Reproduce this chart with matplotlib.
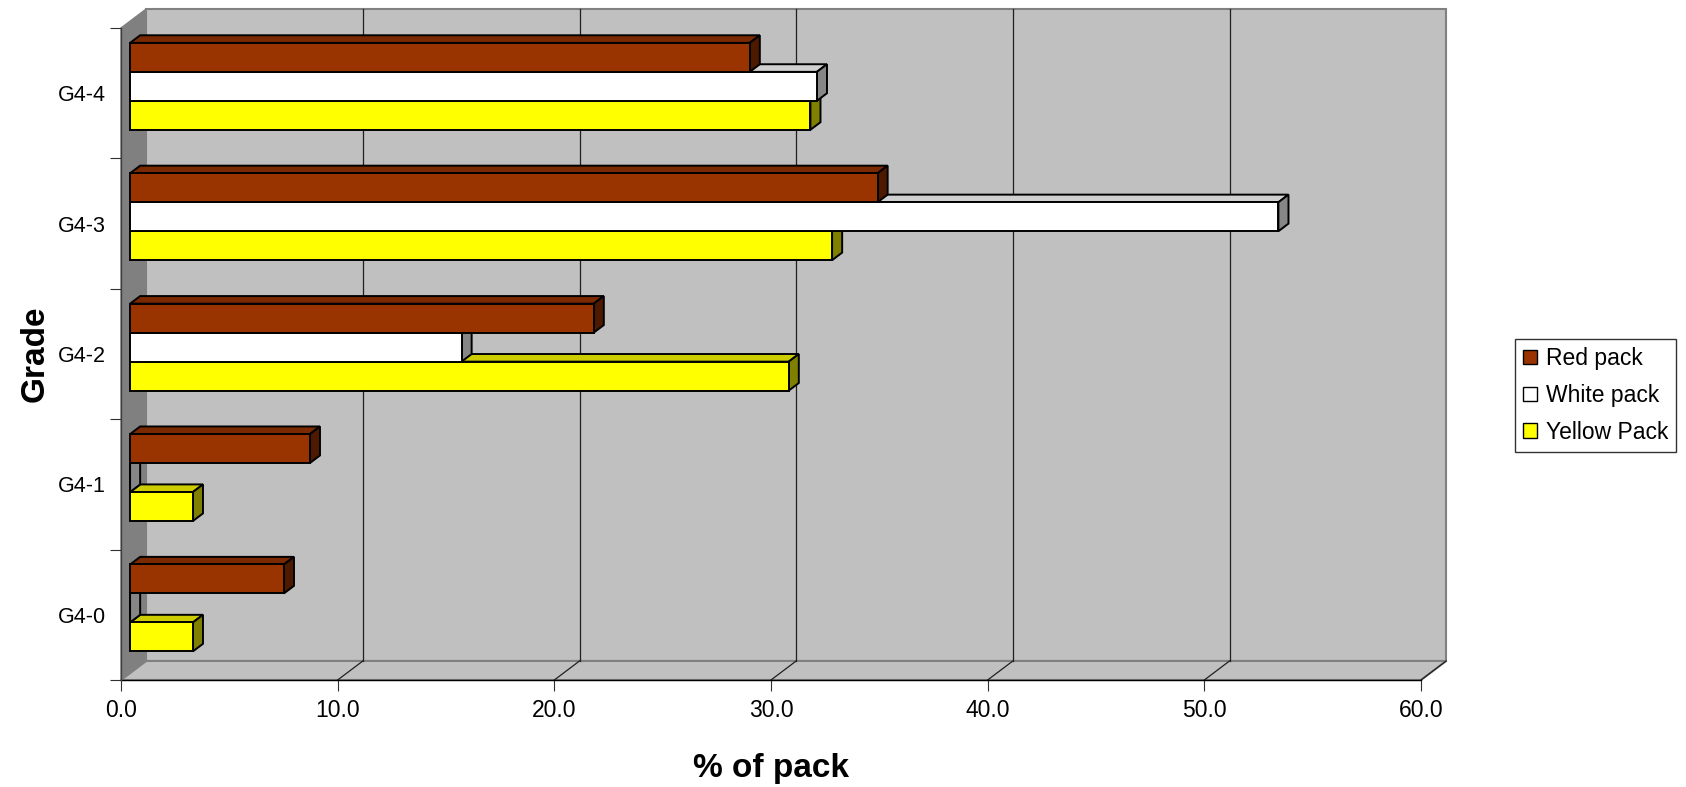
import matplotlib
matplotlib.use("Agg")
import matplotlib.pyplot as plt
from matplotlib.patches import Polygon, Patch

plt.rcParams['font.family'] = ['Liberation Sans', 'DejaVu Sans']

grades = ['G4-0', 'G4-1', 'G4-2', 'G4-3', 'G4-4']
red_pack = [7.1, 8.3, 21.4, 34.5, 28.6]
white_pack = [0.0, 0.0, 15.3, 53.0, 31.7]
yellow_pack = [2.9, 2.9, 30.4, 32.4, 31.4]
x_ticks = [0, 10, 20, 30, 40, 50, 60]

# (label, front, top, side) - drawn bottom series first so upper bars overlap
series = [
    ('Yellow Pack', yellow_pack, '#ffff00', '#cccc00', '#808000'),
    ('White pack', white_pack, '#ffffff', '#d0d0d0', '#868686'),
    ('Red pack', red_pack, '#993300', '#7a2900', '#4d1a00'),
]

XMAX = 60
NCAT = len(grades)
DX, DY = 1.163, 0.146          # wall depth in data units
BF, BD = 0.36, 0.40            # bar front offset / bar depth as share of wall depth
BH = 1 / 4.5                   # bar height (gap width 150%)

fig = plt.figure(figsize=(16.86, 7.87), dpi=100)
ax = fig.add_axes([121 / 1686, 107 / 787, 1300 / 1686, 652 / 787])
ax.set_xlim(0, XMAX)
ax.set_ylim(0, NCAT)
for s in ax.spines.values():
    s.set_visible(False)
ax.set_facecolor('none')

wall = '#c0c0c0'
edge = '#808080'


def poly(pts, fc, ec, lw=1.0, z=1):
    ax.add_patch(Polygon(pts, closed=True, facecolor=fc, edgecolor=ec,
                         linewidth=lw, zorder=z, clip_on=False))


# back wall, side wall, floor
poly([(DX, DY), (XMAX + DX, DY), (XMAX + DX, NCAT + DY), (DX, NCAT + DY)], wall, edge, 1.5)
poly([(0, 0), (DX, DY), (DX, NCAT + DY), (0, NCAT)], '#808080', edge, 1.0)
poly([(0, 0), (XMAX, 0), (XMAX + DX, DY), (DX, DY)], wall, edge, 1.5)

# gridlines on back wall and floor
for t in x_ticks[1:-1]:
    ax.plot([t + DX, t + DX], [DY, NCAT + DY], color='#202020', lw=0.9, zorder=2, clip_on=False)
for t in x_ticks[1:]:
    ax.plot([t, t + DX], [0, DY], color='#202020', lw=0.9, zorder=2, clip_on=False)

# front axis lines
ax.plot([0, XMAX], [0, 0], color='black', lw=1.0, zorder=3, clip_on=False)
ax.plot([0, 0], [0, NCAT], color='#404040', lw=1.0, zorder=3, clip_on=False)

ox, oy = BF * DX, BF * DY
bx, by = BD * DX, BD * DY
for k, (name, vals, fc, tc, sc) in enumerate(series):
    for i, v in enumerate(vals):
        y0 = i + 0.5 - 1.5 * BH + k * BH + oy
        y1 = y0 + BH
        x0, x1 = ox, ox + v
        z = 5 + i * 3 + k
        poly([(x0, y1), (x1, y1), (x1 + bx, y1 + by), (x0 + bx, y1 + by)], tc, 'black', 1.4, z)
        poly([(x1, y0), (x1 + bx, y0 + by), (x1 + bx, y1 + by), (x1, y1)], sc, 'black', 1.4, z)
        poly([(x0, y0), (x1, y0), (x1, y1), (x0, y1)], fc, 'black', 1.4, z)

ax.set_xticks(x_ticks)
ax.set_xticklabels([f'{t:.1f}' for t in x_ticks], fontsize=16.5)
ax.tick_params(axis='x', length=8, width=0.8, pad=6, color='#303030')
ax.set_yticks([i + 0.5 for i in range(NCAT)])
ax.set_yticklabels(grades, fontsize=15.5)
ax.set_yticks(range(NCAT + 1), minor=True)
ax.tick_params(axis='y', which='major', length=0, pad=11)
ax.tick_params(axis='y', which='minor', length=8, width=0.8, color='#303030')

ax.set_xlabel('% of pack', fontsize=24, fontweight='bold', labelpad=22)
ax.set_ylabel('Grade', fontsize=24, fontweight='bold', labelpad=5)

handles = [Patch(facecolor=fc, edgecolor='black', label=name)
           for name, vals, fc, tc, sc in series[::-1]]
leg = fig.legend(handles=handles, loc='center left', bbox_to_anchor=(1515 / 1686, 0.4975),
                 fontsize=16.5, frameon=True, fancybox=False, edgecolor='black',
                 handlelength=0.6, handleheight=0.6, handletextpad=0.4,
                 labelspacing=0.6, borderpad=0.35, borderaxespad=0)
leg.get_frame().set_linewidth(1.0)

fig.savefig('out.png', dpi=100)
